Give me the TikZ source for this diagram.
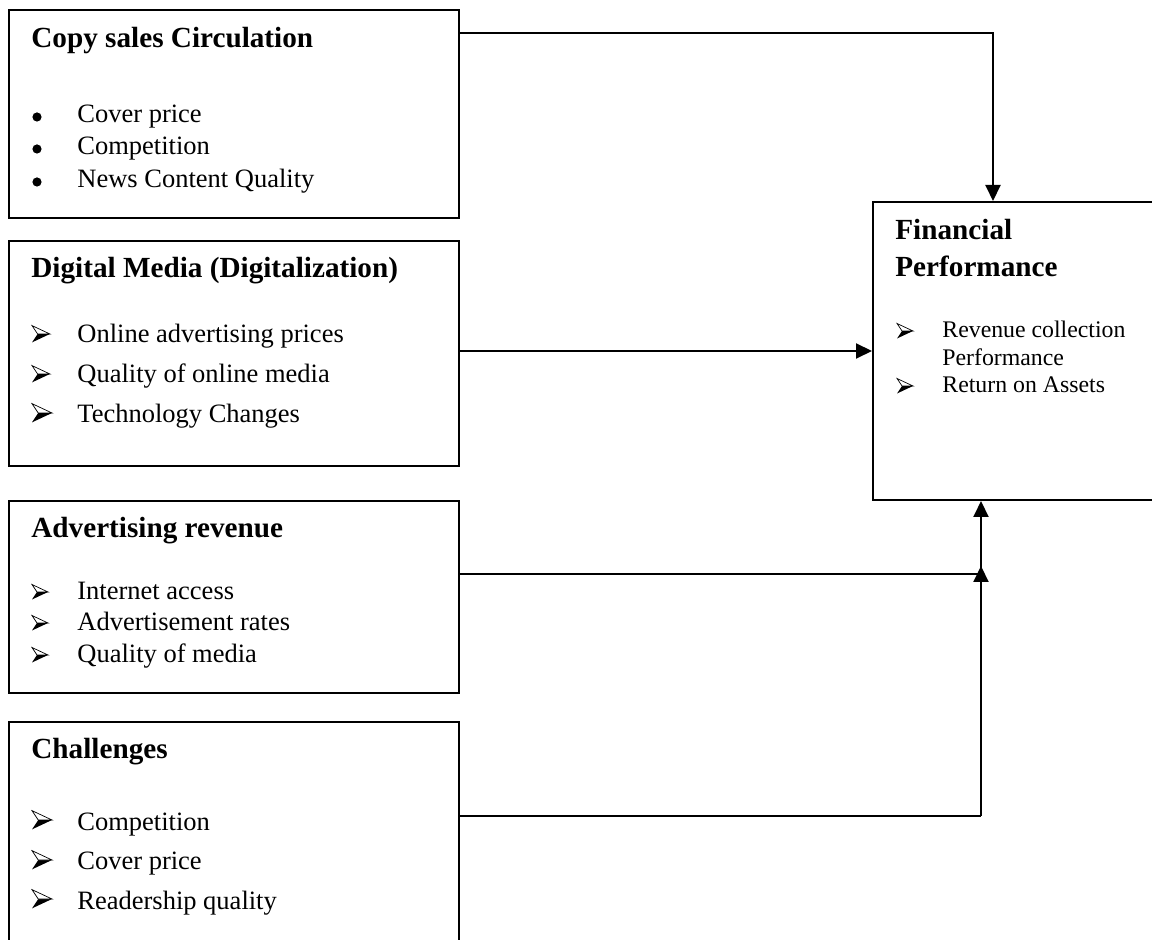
\documentclass[tikz,border=0pt]{standalone}
\usepackage{fontspec}
\setmainfont{Liberation Serif}
\usetikzlibrary{arrows.meta}

\tikzset{
  box/.style={draw, line width=1pt, minimum width=225pt, inner sep=0pt},
  ttl/.style={anchor=base west, inner sep=0pt, font=\fontsize{14.6}{17}\selectfont\bfseries},
  item/.style={anchor=base west, inner sep=0pt, font=\fontsize{13.25}{16}\selectfont},
  small/.style={anchor=base west, inner sep=0pt, font=\fontsize{11.9}{14}\selectfont},
  dot/.style={circle, fill, inner sep=0pt, minimum size=4.6pt},
  arwbul/.pic={
    \fill (0,7.5) -- (16,0) -- (5,0) -- cycle;
    \filldraw[fill=white, line width=0.35pt, line join=miter] (0,-7.5) -- (16,0) -- (5,0) -- cycle;
  },
  conn/.style={line width=1pt, -{Triangle[width=7.5pt,length=8pt]}},
}

\begin{document}
\begin{tikzpicture}[x=0.5pt, y=-0.5pt]
\useasboundingbox (0,0) rectangle (1152,940);
\clip (0,0) rectangle (1152,940);
\node[box, minimum height=104pt] (copy) at (234,114) {};
\node[box, minimum height=112.5pt] (digital) at (234,353.5) {};
\node[box, minimum height=96pt] (advert) at (234,597) {};
\node[box, minimum height=124pt] (challenge) at (234,846) {};
\node[box, minimum width=153.5pt, minimum height=149pt] (fin) at (1026.5,351) {};
% copy sales
\node[ttl] (copyttl) at (31,48) {Copy sales Circulation};
\node[dot] (copyb1) at (37,117) {};
\node[dot] (copyb2) at (37,149) {};
\node[dot] (copyb3) at (37,182) {};
\node[item] (copy1) at (77,123) {Cover price};
\node[item] (copy2) at (77,155) {Competition};
\node[item] (copy3) at (77,188) {News Content Quality};
% digital media
\node[ttl] (digttl) at (31,278) {Digital Media (Digitalization)};
\pic[scale=1.12] (diga1) at (32,334) {arwbul};
\pic[scale=1.12] (diga2) at (32,374) {arwbul};
\pic[scale=1.25] (diga3) at (32,413) {arwbul};
\node[item] (dig1) at (77,343) {Online advertising prices};
\node[item] (dig2) at (77,383) {Quality of online media};
\node[item] (dig3) at (77,423) {Technology Changes};
% advertising
\node[ttl] (advttl) at (31,538) {Advertising revenue};
\pic (adva1) at (32,592) {arwbul};
\pic (adva2) at (32,623) {arwbul};
\pic (adva3) at (32,655) {arwbul};
\node[item] (adv1) at (77,600) {Internet access};
\node[item] (adv2) at (77,631) {Advertisement rates};
\node[item] (adv3) at (77,663) {Quality of media};
% challenges
\node[ttl] (chlttl) at (31,759) {Challenges};
\pic[scale=1.25] (chla1) at (32,820) {arwbul};
\pic[scale=1.25] (chla2) at (32,860) {arwbul};
\pic[scale=1.25] (chla3) at (32,899) {arwbul};
\node[item] (chl1) at (77,830) {Competition};
\node[item] (chl2) at (77,870) {Cover price};
\node[item] (chl3) at (77,909) {Readership quality};
% financial performance
\node[ttl] (finttl1) at (895,240) {Financial};
\node[ttl] (finttl2) at (895,277) {Performance};
\pic (fina1) at (897,331) {arwbul};
\pic (fina2) at (897,386) {arwbul};
\node[small] (fin1) at (942,338) {Revenue collection};
\node[small] (fin1b) at (942,366) {Performance};
\node[small] (fin2) at (942,393) {Return on Assets};
% connectors
\coordinate (t1) at (993,33);
\coordinate (j3) at (981,574);
\coordinate (j4) at (981,816);
\draw[conn] (copy.east |- t1) -- (t1) -- (t1 |- fin.north);
\draw[conn] (digital.east |- fin.west) -- (fin.west);
\draw[line width=0.8pt] (advert.east |- j3) -- (j3);
\draw[line width=0.8pt] (challenge.east |- j4) -- (j4);
\draw[conn, shorten >=-4pt] (j4) -- (j3);
\draw[conn] (j3) -- (j3 |- fin.south);
\end{tikzpicture}
\end{document}
